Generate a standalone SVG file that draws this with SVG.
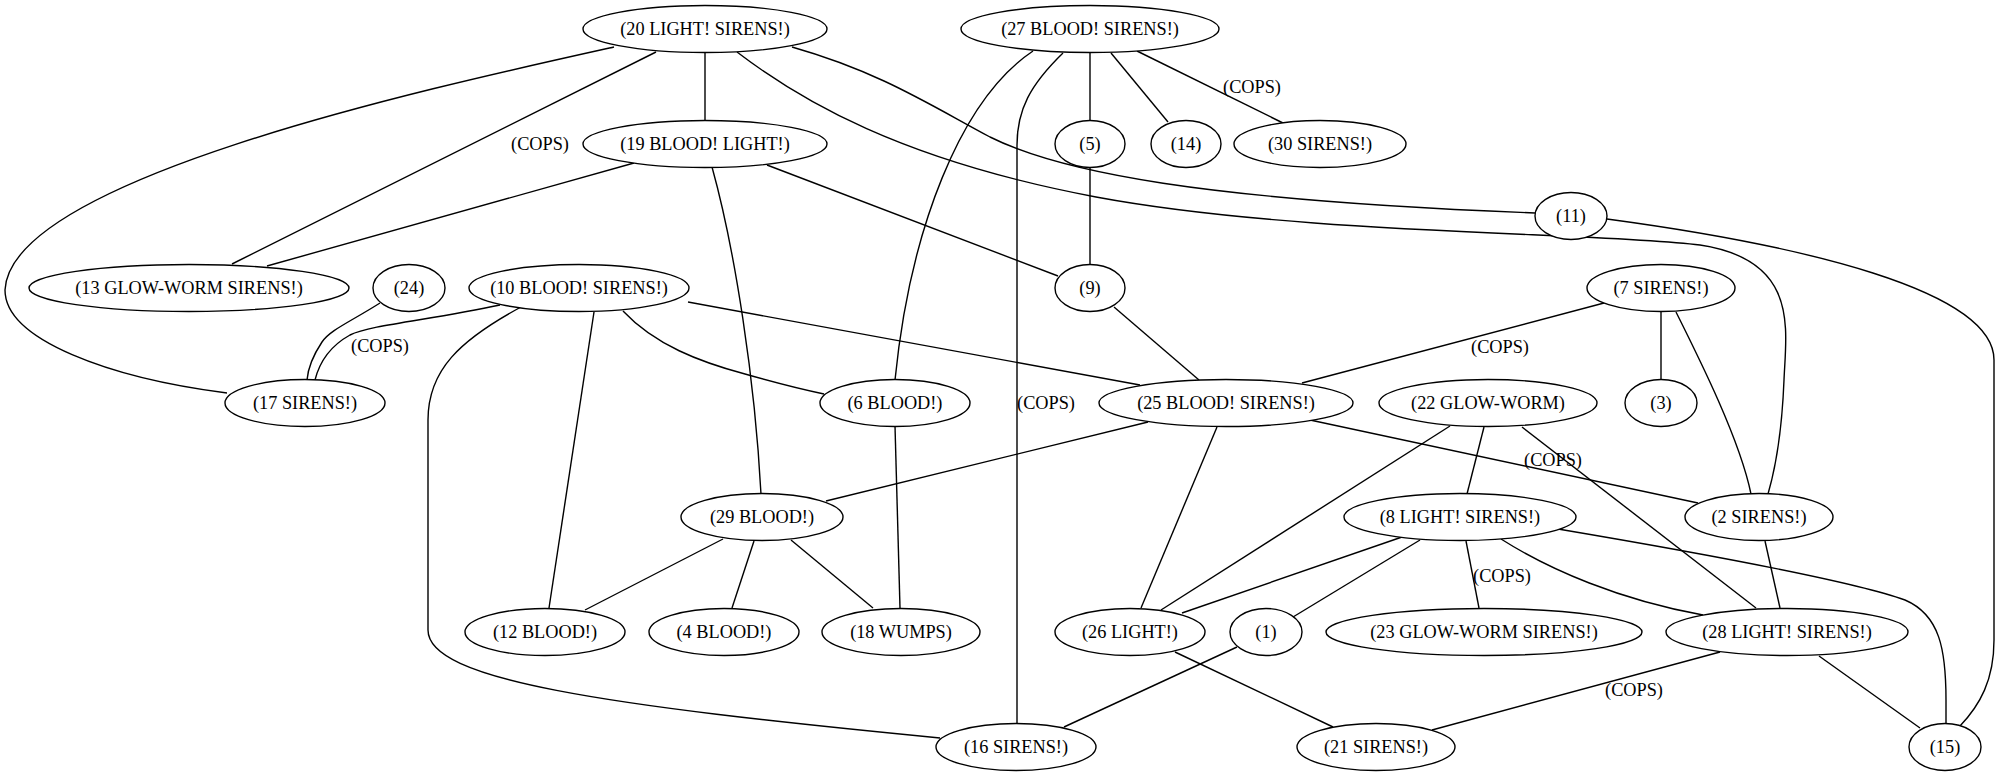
<svg xmlns="http://www.w3.org/2000/svg" width="2009" height="776" viewBox="0 0 2009 776">
<style>
.e{fill:none;stroke:#000;stroke-width:1.4}
.n ellipse{fill:#fff;stroke:#000;stroke-width:1.4}
text{font-family:"Liberation Serif","Times New Roman",serif;font-size:18.3px;fill:#000;text-anchor:middle}
</style>
<rect width="2009" height="776" fill="#fff"/>
<g id="connectors">
<path class="e" d="M614,47 C420,90 10,180 5,290 C5,340 110,378 227,393"/>
<path class="e" d="M656,52 L232,264"/>
<path class="e" d="M634,163 L267,266"/>
<path class="e" d="M705,52 L705,121"/>
<path class="e" d="M792,47 C880,72 930,105 990,137 C1060,172 1200,200 1535,213"/>
<path class="e" d="M737,52 C800,100 900,160 1096,197 C1300,235 1600,232 1700,245 C1800,260 1786,330 1784,380 C1782,430 1775,470 1768,494"/>
<path class="e" d="M1607,219 C1800,245 1994,290 1994,360 L1994,640 C1994,680 1980,705 1960,726"/>
<path class="e" d="M1033,51 C960,100 910,230 895,380"/>
<path class="e" d="M1063,53 C1030,85 1017,110 1017,145 L1017,724"/>
<path class="e" d="M1090,52 L1090,121"/>
<path class="e" d="M1111,53 L1168,122"/>
<path class="e" d="M1137,51 L1285,124"/>
<path class="e" d="M712,167 C735,250 755,380 761,494"/>
<path class="e" d="M767,165 L1058,276"/>
<path class="e" d="M1090,167 L1090,264"/>
<path class="e" d="M380,303 C350,322 330,330 322,342 C312,357 308,368 307,380"/>
<path class="e" d="M500,305 C430,320 370,325 350,335 C332,345 320,360 315,380"/>
<path class="e" d="M623,311 C655,345 700,362 745,374 C780,384 805,390 824,394"/>
<path class="e" d="M688,302 L1140,385"/>
<path class="e" d="M594,312 L549,608"/>
<path class="e" d="M521,307 C460,340 428,370 428,420 L428,630 C428,680 600,705 940,738"/>
<path class="e" d="M1114,307 L1199,380"/>
<path class="e" d="M1604,303 L1302,383"/>
<path class="e" d="M1661,311 L1661,380"/>
<path class="e" d="M1676,312 C1700,360 1740,440 1751,494"/>
<path class="e" d="M895,426 L900,608"/>
<path class="e" d="M1148,422 L826,501"/>
<path class="e" d="M1217,427 L1141,608"/>
<path class="e" d="M1310,420 L1698,503"/>
<path class="e" d="M1450,426 L1161,610"/>
<path class="e" d="M1484,427 L1467,494"/>
<path class="e" d="M1522,427 L1756,608"/>
<path class="e" d="M723,539 L585,610"/>
<path class="e" d="M754,541 L732,608"/>
<path class="e" d="M791,540 L873,608"/>
<path class="e" d="M1402,537 L1182,613"/>
<path class="e" d="M1420,540 L1293,617"/>
<path class="e" d="M1466,541 L1479,608"/>
<path class="e" d="M1501,539 C1550,570 1620,600 1703,615"/>
<path class="e" d="M1558,529 C1700,553 1850,580 1905,600 C1940,615 1946,650 1946,700 L1946,723"/>
<path class="e" d="M1765,541 L1780,608"/>
<path class="e" d="M1175,652 L1333,727"/>
<path class="e" d="M1237,647 L1064,727"/>
<path class="e" d="M1720,652 L1432,730"/>
<path class="e" d="M1819,656 L1920,728"/>
<text x="540" y="150">(COPS)</text>
<text x="1252" y="93">(COPS)</text>
<text x="380" y="352">(COPS)</text>
<text x="1046" y="409">(COPS)</text>
<text x="1500" y="353">(COPS)</text>
<text x="1553" y="466">(COPS)</text>
<text x="1502" y="582">(COPS)</text>
<text x="1634" y="696">(COPS)</text>
</g>
<g id="n20" class="n"><ellipse cx="705" cy="29" rx="122" ry="23.5"/><text x="705" y="35">(20 LIGHT! SIRENS!)</text></g>
<g id="n27" class="n"><ellipse cx="1090" cy="29" rx="129" ry="23.5"/><text x="1090" y="35">(27 BLOOD! SIRENS!)</text></g>
<g id="n19" class="n"><ellipse cx="705" cy="144" rx="122" ry="23.5"/><text x="705" y="150">(19 BLOOD! LIGHT!)</text></g>
<g id="n5" class="n"><ellipse cx="1090" cy="144" rx="35" ry="23.5"/><text x="1090" y="150">(5)</text></g>
<g id="n14" class="n"><ellipse cx="1186" cy="144" rx="35" ry="23.5"/><text x="1186" y="150">(14)</text></g>
<g id="n30" class="n"><ellipse cx="1320" cy="144" rx="86" ry="23.5"/><text x="1320" y="150">(30 SIRENS!)</text></g>
<g id="n11" class="n"><ellipse cx="1571" cy="216" rx="36" ry="23.5"/><text x="1571" y="222">(11)</text></g>
<g id="n13" class="n"><ellipse cx="189" cy="288" rx="160" ry="23.5"/><text x="189" y="294">(13 GLOW-WORM SIRENS!)</text></g>
<g id="n24" class="n"><ellipse cx="409" cy="288" rx="36" ry="23.5"/><text x="409" y="294">(24)</text></g>
<g id="n10" class="n"><ellipse cx="579" cy="288" rx="110" ry="23.5"/><text x="579" y="294">(10 BLOOD! SIRENS!)</text></g>
<g id="n9" class="n"><ellipse cx="1090" cy="288" rx="35" ry="23.5"/><text x="1090" y="294">(9)</text></g>
<g id="n7" class="n"><ellipse cx="1661" cy="288" rx="74" ry="23.5"/><text x="1661" y="294">(7 SIRENS!)</text></g>
<g id="n17" class="n"><ellipse cx="305" cy="403" rx="80" ry="23.5"/><text x="305" y="409">(17 SIRENS!)</text></g>
<g id="n6" class="n"><ellipse cx="895" cy="403" rx="75" ry="23.5"/><text x="895" y="409">(6 BLOOD!)</text></g>
<g id="n25" class="n"><ellipse cx="1226" cy="403" rx="127" ry="23.5"/><text x="1226" y="409">(25 BLOOD! SIRENS!)</text></g>
<g id="n22" class="n"><ellipse cx="1488" cy="403" rx="109" ry="23.5"/><text x="1488" y="409">(22 GLOW-WORM)</text></g>
<g id="n3" class="n"><ellipse cx="1661" cy="403" rx="36" ry="23.5"/><text x="1661" y="409">(3)</text></g>
<g id="n29" class="n"><ellipse cx="762" cy="517" rx="81" ry="23.5"/><text x="762" y="523">(29 BLOOD!)</text></g>
<g id="n8" class="n"><ellipse cx="1460" cy="517" rx="116" ry="23.5"/><text x="1460" y="523">(8 LIGHT! SIRENS!)</text></g>
<g id="n2" class="n"><ellipse cx="1759" cy="517" rx="74" ry="23.5"/><text x="1759" y="523">(2 SIRENS!)</text></g>
<g id="n12" class="n"><ellipse cx="545" cy="632" rx="80" ry="23.5"/><text x="545" y="638">(12 BLOOD!)</text></g>
<g id="n4" class="n"><ellipse cx="724" cy="632" rx="75" ry="23.5"/><text x="724" y="638">(4 BLOOD!)</text></g>
<g id="n18" class="n"><ellipse cx="901" cy="632" rx="79" ry="23.5"/><text x="901" y="638">(18 WUMPS)</text></g>
<g id="n26" class="n"><ellipse cx="1130" cy="632" rx="75" ry="23.5"/><text x="1130" y="638">(26 LIGHT!)</text></g>
<g id="n1" class="n"><ellipse cx="1266" cy="632" rx="36" ry="23.5"/><text x="1266" y="638">(1)</text></g>
<g id="n23" class="n"><ellipse cx="1484" cy="632" rx="158" ry="23.5"/><text x="1484" y="638">(23 GLOW-WORM SIRENS!)</text></g>
<g id="n28" class="n"><ellipse cx="1787" cy="632" rx="121" ry="23.5"/><text x="1787" y="638">(28 LIGHT! SIRENS!)</text></g>
<g id="n16" class="n"><ellipse cx="1016" cy="747" rx="80" ry="23.5"/><text x="1016" y="753">(16 SIRENS!)</text></g>
<g id="n21" class="n"><ellipse cx="1376" cy="747" rx="79" ry="23.5"/><text x="1376" y="753">(21 SIRENS!)</text></g>
<g id="n15" class="n"><ellipse cx="1945" cy="747" rx="36" ry="23.5"/><text x="1945" y="753">(15)</text></g>
</svg>
